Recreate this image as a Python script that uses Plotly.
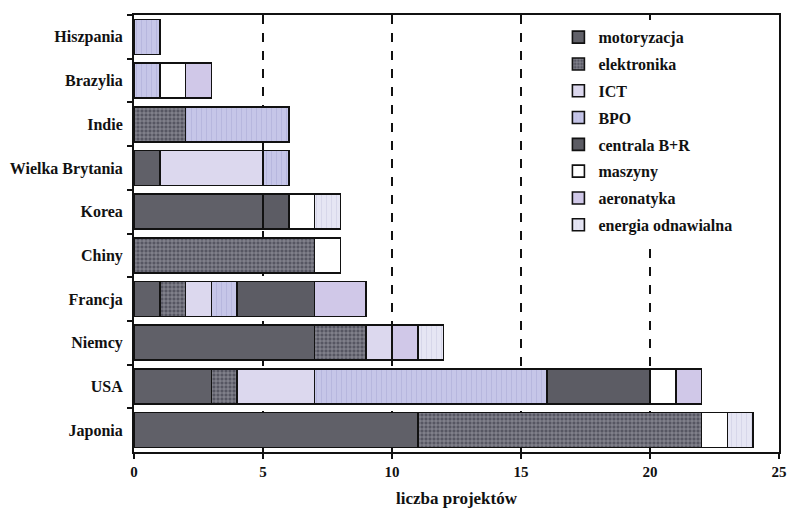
import plotly.graph_objects as go

categories = ["Hiszpania", "Brazylia", "Indie", "Wielka Brytania", "Korea",
              "Chiny", "Francja", "Niemcy", "USA", "Japonia"]

motoryzacja = [0, 0, 0, 1, 5, 0, 1, 7, 3, 11]
elektronika = [0, 0, 2, 0, 0, 7, 1, 2, 1, 11]
ict = [0, 0, 0, 4, 0, 0, 1, 1, 3, 0]
bpo = [1, 1, 4, 1, 0, 0, 1, 0, 9, 0]
centrala_br = [0, 0, 0, 0, 1, 0, 3, 0, 4, 0]
maszyny = [0, 1, 0, 0, 1, 1, 0, 0, 1, 1]
aeronatyka = [0, 1, 0, 0, 0, 0, 2, 1, 1, 0]
energia = [0, 0, 0, 0, 1, 0, 0, 1, 0, 1]

series_names = ["motoryzacja", "elektronika", "ICT", "BPO", "centrala B+R",
                "maszyny", "aeronatyka", "energia odnawialna"]
series_values = [motoryzacja, elektronika, ict, bpo, centrala_br,
                 maszyny, aeronatyka, energia]

styles = [
    dict(color="#606068"),
    dict(color="#565662", pattern=dict(shape="+", fgcolor="#eeeef4", size=4, solidity=0.3, fillmode="overlay")),
    dict(color="#dcd8ee"),
    dict(color="#c6c6e8", pattern=dict(shape="|", fgcolor="#a8a8d4", size=5, solidity=0.2, fillmode="overlay")),
    dict(color="#5c5c64"),
    dict(color="#ffffff"),
    dict(color="#d0c8e8"),
    dict(color="#e6e6f4", pattern=dict(shape="|", fgcolor="#c8c8e0", size=5, solidity=0.2, fillmode="overlay")),
]

FONT = "Liberation Serif"

fig = go.Figure()
for name, vals, st in zip(series_names, series_values, styles):
    marker = dict(color=st["color"], line=dict(color="#111111", width=1.6))
    if "pattern" in st:
        marker["pattern"] = st["pattern"]
    fig.add_trace(go.Bar(
        y=categories,
        x=[v if v else None for v in vals],
        name=name,
        orientation="h",
        marker=marker,
        legendgroup=name,
    ))

# The page body adds an 8 px offset, so the figure is sized to fit the window.
fig.update_layout(
    barmode="stack",
    bargap=0.2,
    width=787,
    height=502,
    margin=dict(l=126, r=16, t=7, b=58),
    plot_bgcolor="white",
    paper_bgcolor="white",
    font=dict(family=FONT, color="#111111"),
    legend=dict(
        x=0.658, y=0.988, xanchor="left", yanchor="top",
        bgcolor="white",
        font=dict(family=FONT, size=16, color="#111111", weight="bold"),
        traceorder="grouped",
        tracegroupgap=3,
        itemwidth=30,
    ),
    xaxis=dict(
        range=[0, 25],
        tickvals=[0, 5, 10, 15, 20, 25],
        ticks="outside",
        ticklen=5,
        tickwidth=2,
        tickcolor="#111111",
        ticklabeloverflow="allow",
        showline=True,
        linecolor="#111111",
        linewidth=2,
        mirror=True,
        showgrid=True,
        gridcolor="#111111",
        gridwidth=2,
        griddash="dash",
        zeroline=False,
        automargin=False,
        tickfont=dict(family=FONT, size=15, color="#111111", weight="bold"),
        title=dict(text="liczba projektów", font=dict(family=FONT, size=17, color="#111111", weight="bold"), standoff=13),
    ),
    yaxis=dict(
        autorange="reversed",
        ticks="outside",
        tickson="boundaries",
        ticklen=5,
        tickwidth=2,
        tickcolor="#111111",
        ticklabelstandoff=6,
        showline=True,
        linecolor="#111111",
        linewidth=2,
        mirror=True,
        showgrid=False,
        automargin=False,
        tickfont=dict(family=FONT, size=16, color="#111111", weight="bold"),
    ),
)

fig.write_html("out.html")
